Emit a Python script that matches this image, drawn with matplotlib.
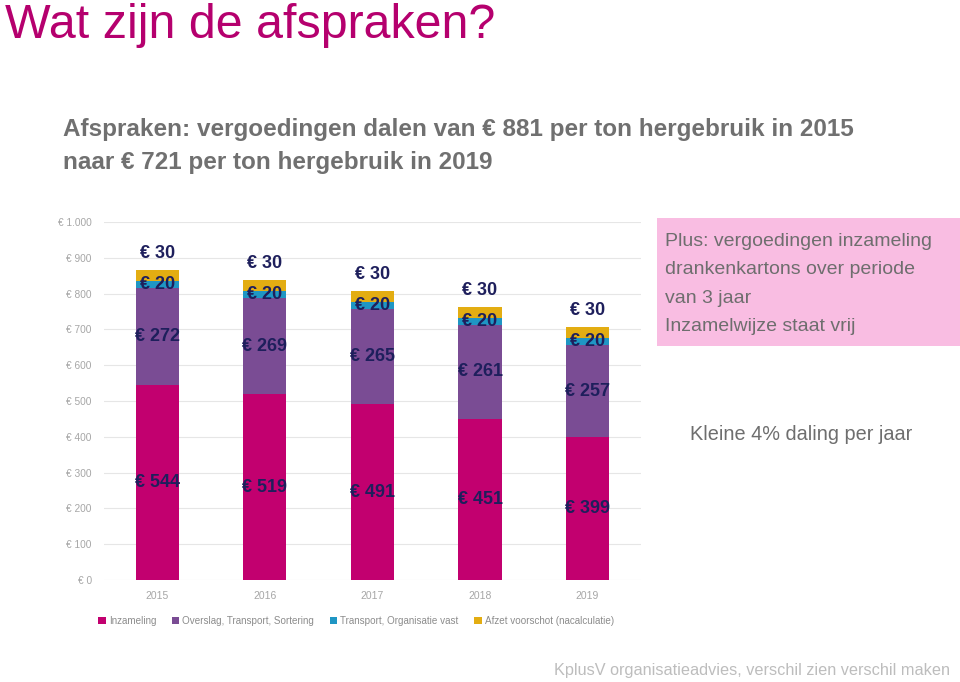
import matplotlib
matplotlib.use("Agg")
import matplotlib.pyplot as plt
from matplotlib.patches import Rectangle, Patch
import numpy as np

years = ["2015", "2016", "2017", "2018", "2019"]
inzameling = [544, 519, 491, 451, 399]
overslag = [272, 269, 265, 261, 257]
transport = [20, 20, 20, 20, 20]
afzet = [30, 30, 30, 30, 30]
series_names = ["Inzameling", "Overslag, Transport, Sortering",
                "Transport, Organisatie vast", "Afzet voorschot (nacalculatie)"]
yticks = [0, 100, 200, 300, 400, 500, 600, 700, 800, 900, 1000]
ytick_labels = ["€ 0", "€ 100", "€ 200", "€ 300", "€ 400", "€ 500", "€ 600",
                "€ 700", "€ 800", "€ 900", "€ 1.000"]

colors = ["#c2006f", "#7a4c94", "#1f96c4", "#e3ad12"]
label_color = "#1e1f5c"
FONT = ["Liberation Sans", "DejaVu Sans"]

fig = plt.figure(figsize=(9.6, 6.82), dpi=100)
ax = fig.add_axes([0.108, 0.1496, 0.560, 0.5249])

x = np.arange(len(years))
data = [inzameling, overslag, transport, afzet]
bottom = np.zeros(len(years))
for vals, col, name in zip(data, colors, series_names):
    ax.bar(x, vals, width=0.4, bottom=bottom, color=col, label=name, zorder=3)
    bottom = bottom + np.array(vals)

# labels
b = np.zeros(len(years))
for i, vals in enumerate(data):
    for j, v in enumerate(vals):
        if i < 3:
            ax.text(x[j], b[j] + v / 2, f"€ {v}", ha="center", va="center",
                    fontsize=13, fontweight="bold", color=label_color,
                    family=FONT, zorder=5)
        else:
            ax.annotate(f"€ {v}", (x[j], b[j] + v), xytext=(0, 12),
                        textcoords="offset points", ha="center", va="center",
                        fontsize=13, fontweight="bold", color=label_color,
                        family=FONT, zorder=5)
    b = b + np.array(vals)

ax.set_xlim(-0.5, len(years) - 0.5)
ax.set_ylim(0, 1000)
ax.set_yticks(yticks)
ax.set_yticklabels(ytick_labels, family=FONT, fontsize=7.3, color="#a6a6a6")
ax.set_xticks(x)
ax.set_xticklabels(years, family=FONT, fontsize=7.5, color="#a6a6a6")
ax.tick_params(axis="y", length=0, pad=8.6)
ax.tick_params(axis="x", length=0, pad=8)
ax.grid(axis="y", color="#e6e6e6", linewidth=0.8, zorder=0)
for s in ax.spines.values():
    s.set_visible(False)
ax.set_facecolor("none")

handles = [Patch(facecolor=c, edgecolor="none") for c in colors]
fig.legend(handles, series_names, loc="center", bbox_to_anchor=(0.371, 0.0894),
           ncol=4, frameon=False, handlelength=0.75, handleheight=0.75,
           handletextpad=0.3, columnspacing=1.6,
           prop={"family": FONT, "size": 7.1}, labelcolor="#8c8c8c")

# Title & subtitle
fig.text(5 / 960, 1 - 3 / 682, "Wat zijn de afspraken?", ha="left", va="top",
         fontsize=34.8, color="#b5006e", family=FONT)
fig.text(63 / 960, 1 - 118 / 682,
         "Afspraken: vergoedingen dalen van € 881 per ton hergebruik in 2015\nnaar € 721 per ton hergebruik in 2019",
         ha="left", va="top", fontsize=17.5, fontweight="bold", color="#707070",
         family=FONT, linespacing=1.58)

# Pink box
fig.patches.append(Rectangle((657 / 960, 1 - 346 / 682), 303 / 960, 128 / 682,
                             transform=fig.transFigure, facecolor="#f9bde2",
                             edgecolor="none", zorder=0))
fig.text(665 / 960, 1 - 233 / 682,
         "Plus: vergoedingen inzameling\ndrankenkartons over periode\nvan 3 jaar\nInzamelwijze staat vrij",
         ha="left", va="top", fontsize=14, color="#6e6e6e", family=FONT,
         linespacing=1.88)
fig.text(801 / 960, 1 - 435 / 682, "Kleine 4% daling per jaar", ha="center",
         va="center", fontsize=14.3, color="#6e6e6e", family=FONT)
fig.text(950 / 960, 1 - 671 / 682,
         "KplusV organisatieadvies, verschil zien verschil maken", ha="right",
         va="center", fontsize=11.7, color="#bdbdbd", family=FONT)

fig.savefig("out.png", dpi=100)
